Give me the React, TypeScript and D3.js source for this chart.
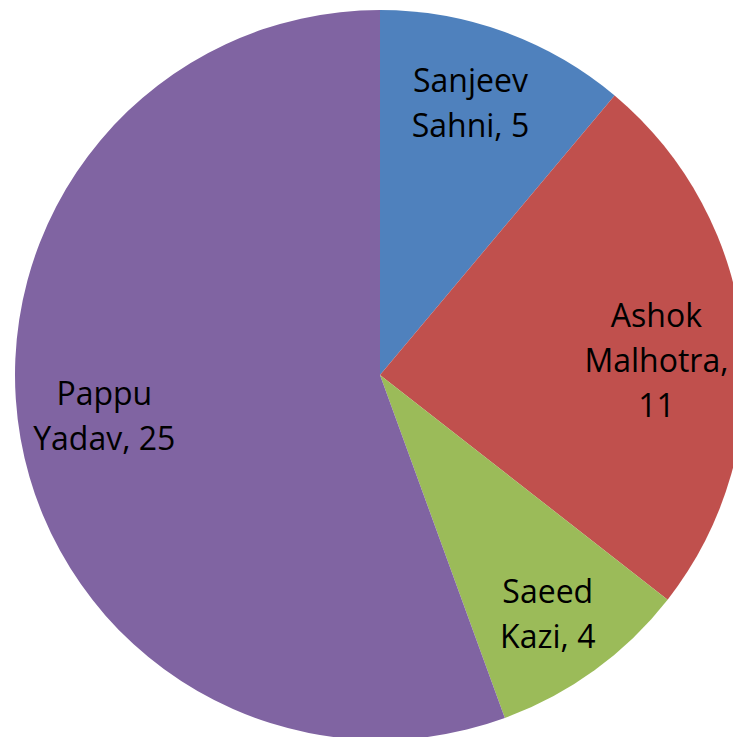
import React from "react";
import * as d3 from "d3";

const names = ["Sanjeev Sahni", "Ashok Malhotra", "Saeed Kazi", "Pappu Yadav"];
const values = [5, 11, 4, 25];
const labelLines = [["Sanjeev", "Sahni, 5"], ["Ashok", "Malhotra,", "11"], ["Saeed", "Kazi, 4"], ["Pappu", "Yadav, 25"]];
const colors = ["#4F81BD", "#C0504D", "#9BBB59", "#8064A2"];

const W = 733, H = 737;
const cx = 380, cy = 375, R = 365;
const labelR = 282;
const nudges: [number, number][] = [[-6, -7], [-4, 15], [2, 11], [2, -8]];
const lineH = 45;

export default function App() {
  const pie = d3.pie<number>().sort(null).value((d) => d);
  const arcs = pie(values);
  const arc = d3.arc<d3.PieArcDatum<number>>().innerRadius(0).outerRadius(R);
  const labelArc = d3.arc<d3.PieArcDatum<number>>().innerRadius(labelR).outerRadius(labelR);
  return (
    <svg width={W} height={H} style={{ position: "absolute", left: 0, top: 0 }}>
      <g transform={`translate(${cx},${cy})`}>
        {arcs.map((a, i) => (
          <path key={names[i]} d={arc(a) || ""} fill={colors[i]} />
        ))}
        {arcs.map((a, i) => {
          const [x, y] = labelArc.centroid(a);
          const lx = x + nudges[i][0];
          const ly = y + nudges[i][1];
          const lines = labelLines[i];
          const y0 = ly - ((lines.length - 1) * lineH) / 2;
          return (
            <text key={names[i]} textAnchor="middle" fontFamily="'Open Sans', sans-serif" fontSize={32} fill="#000">
              {lines.map((l, j) => (
                <tspan key={j} x={lx} y={y0 + j * lineH} dy="0.36em">{l}</tspan>
              ))}
            </text>
          );
        })}
      </g>
    </svg>
  );
}
